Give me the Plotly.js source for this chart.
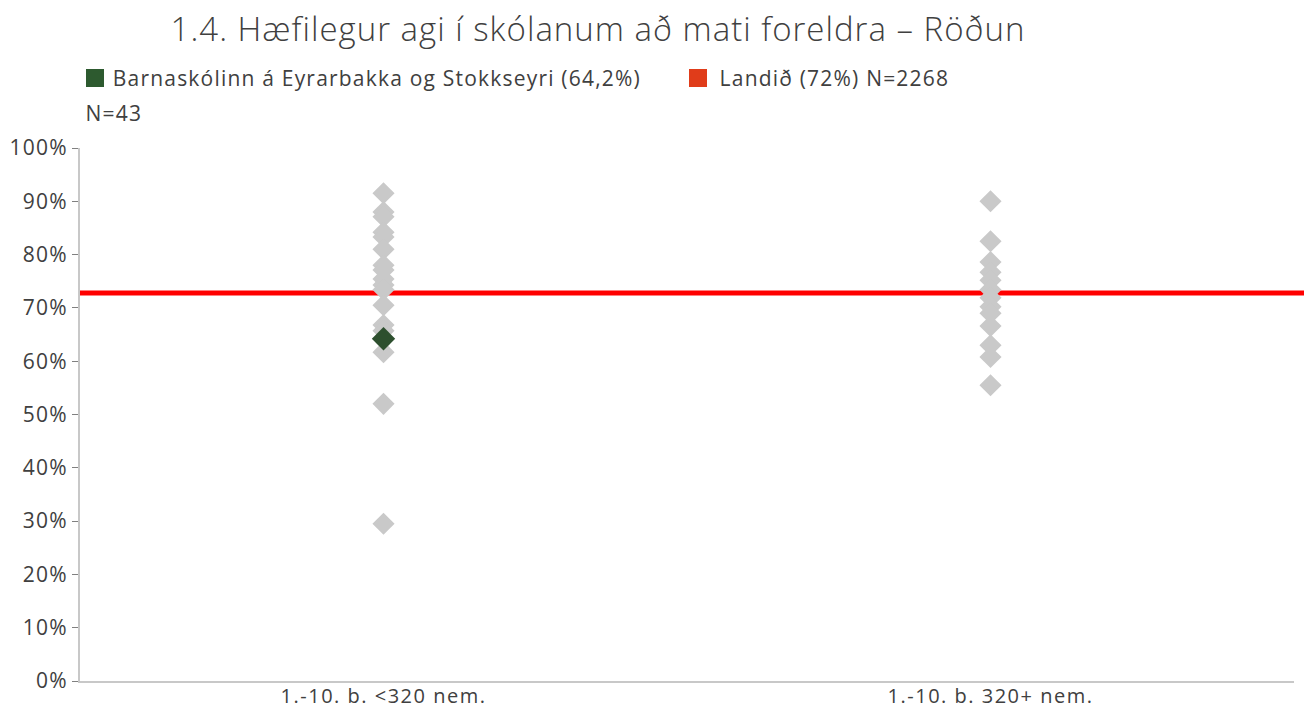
<!DOCTYPE html>
<html>
<head>
<meta charset="utf-8">
<script src="https://cdn.plot.ly/plotly-3.0.1.min.js"></script>
<style>
html,body{margin:0;padding:0;background:#fff;}
#chart{width:1304px;height:711px;}
#chart .gtitle{letter-spacing:1.0px;}
#chart .annotation-text{letter-spacing:1.2px;}
#chart .xtick text{letter-spacing:1.5px;}
#chart .ytick text{letter-spacing:1.2px;}
</style>
</head>
<body>
<div id="chart"></div>
<script>
// ---- data ----
const categories = ["1.-10. b. <320 nem.", "1.-10. b. 320+ nem."];
const smallSchools = [91.5, 88.0, 87.1, 84.2, 83.3, 81.0, 78.0, 77.1, 75.4, 74.3, 73.4, 70.5, 66.8, 65.7, 61.7, 52.0, 29.5];
const largeSchools = [90.0, 82.5, 78.6, 76.7, 75.2, 73.4, 71.9, 70.2, 69.0, 66.6, 63.0, 60.8, 55.5];
const schoolCategory = "1.-10. b. <320 nem.";
const schoolValue = 64.2;
const nationalValue = 72.8;
const schoolLabel = "Barnaskólinn á Eyrarbakka og Stokkseyri (64,2%)";
const schoolN = "N=43";
const nationalLabel = "Landið (72%) N=2268";
const yTickVals = [0,10,20,30,40,50,60,70,80,90,100];
const yTickText = ["0%","10%","20%","30%","40%","50%","60%","70%","80%","90%","100%"];
const titleText = "1.4. Hæfilegur agi í skólanum að mati foreldra – Röðun";

// ---- layout helpers (pixel -> paper) ----
const L = 80, R = 10, T = 148, B = 30, W = 1304, H = 711;
const pw = W - L - R, ph = H - T - B;
const px = p => (p - L) / pw;
const py = p => (H - B - p) / ph;

const grey = "#c9c9c9";
const traces = [
  {
    type: "scatter", mode: "markers",
    x: smallSchools.map(() => categories[0]), y: smallSchools,
    marker: {symbol: "diamond", size: 17, color: grey},
    hoverinfo: "y", showlegend: false
  },
  {
    type: "scatter", mode: "markers",
    x: largeSchools.map(() => categories[1]), y: largeSchools,
    marker: {symbol: "diamond", size: 17, color: grey},
    hoverinfo: "y", showlegend: false
  },
  {
    type: "scatter", mode: "markers",
    x: [schoolCategory], y: [schoolValue],
    marker: {symbol: "diamond", size: 18, color: "#2d4f2e"},
    hoverinfo: "y", showlegend: false
  }
];

const legendFont = {family: "Open Sans", size: 21, color: "#404040", weight: 400};

const layout = {
  width: W, height: H,
  margin: {l: L, r: R, t: T, b: B},
  paper_bgcolor: "#fff", plot_bgcolor: "#fff",
  showlegend: false,
  title: {
    text: titleText,
    font: {family: "Open Sans", size: 33, color: "#404040", weight: 300},
    x: 598/W, xanchor: "center", y: 1 - 29/H, yanchor: "middle"
  },
  xaxis: {
    type: "category", categoryorder: "array", categoryarray: categories,
    range: [-0.5, 1.5],
    showline: true, linecolor: "#c8c8c8", linewidth: 2,
    showgrid: false, zeroline: false, ticks: "",
    ticklabelstandoff: -4,
    tickfont: {family: "Open Sans", size: 20, color: "#404040"},
    fixedrange: true
  },
  yaxis: {
    range: [0, 100],
    tickvals: yTickVals, ticktext: yTickText,
    showline: true, linecolor: "#c8c8c8", linewidth: 2,
    ticks: "outside", ticklen: 6, tickcolor: "#808080", tickwidth: 1,
    showgrid: false, zeroline: false,
    tickfont: {family: "Open Sans", size: 21, color: "#404040"},
    fixedrange: true
  },
  shapes: [
    {type: "line", xref: "paper", yref: "y", x0: 0, x1: 1.01, y0: nationalValue, y1: nationalValue,
     line: {color: "#ff0000", width: 5}, layer: "below"},
    {type: "rect", xref: "paper", yref: "paper", x0: px(86), x1: px(104), y0: py(87), y1: py(69),
     fillcolor: "#2d5a2f", line: {width: 0}},
    {type: "rect", xref: "paper", yref: "paper", x0: px(689), x1: px(707), y0: py(87), y1: py(69),
     fillcolor: "#e03c1a", line: {width: 0}}
  ],
  annotations: [
    {xref: "paper", yref: "paper", x: px(377), y: py(78), xanchor: "center", yanchor: "middle",
     text: schoolLabel, showarrow: false, font: legendFont},
    {xref: "paper", yref: "paper", x: px(834), y: py(78), xanchor: "center", yanchor: "middle",
     text: nationalLabel, showarrow: false, font: legendFont},
    {xref: "paper", yref: "paper", x: px(114), y: py(113), xanchor: "center", yanchor: "middle",
     text: schoolN, showarrow: false, font: legendFont}
  ]
};

Plotly.newPlot("chart", traces, layout, {displayModeBar: false, staticPlot: true});
</script>
</body>
</html>
